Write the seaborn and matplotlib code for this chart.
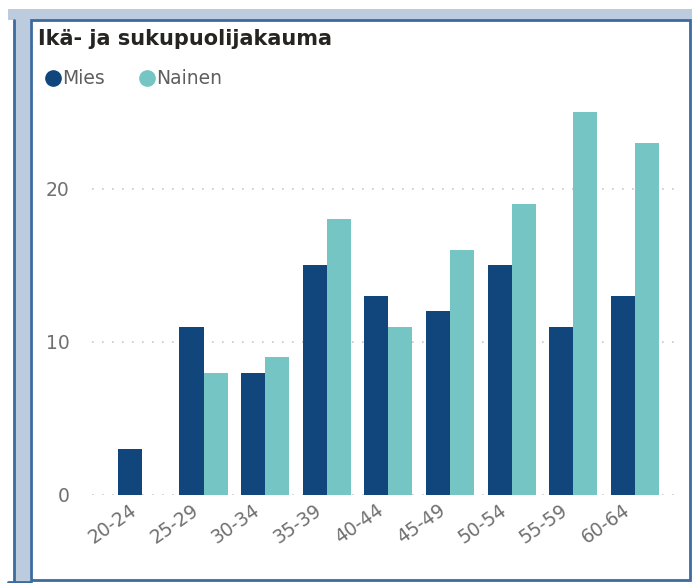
import seaborn as sns
import matplotlib.pyplot as plt
import matplotlib.transforms as mtransforms
import pandas as pd
from matplotlib.patches import Rectangle
from matplotlib.lines import Line2D

age_groups = ["20-24", "25-29", "30-34", "35-39", "40-44", "45-49", "50-54", "55-59", "60-64"]
mies = [3, 11, 8, 15, 13, 12, 15, 11, 13]
nainen = [0, 8, 9, 18, 11, 16, 19, 25, 23]
genders = ["Mies", "Nainen"]
colors = ["#11467C", "#74C5C3"]

df = pd.DataFrame({
    "ika": age_groups * 2,
    "sukupuoli": ["Mies"] * len(age_groups) + ["Nainen"] * len(age_groups),
    "lkm": mies + nainen,
})

sns.set_style("white")
plt.rcParams["font.family"] = ["DejaVu Sans"]

fig = plt.figure(figsize=(6.92, 5.83), dpi=100)

# frame like the report page
W, H = 692, 583
band = "#BCCBDD"
edge = "#3B6B9F"
fig.patches.append(Rectangle((8 / W, 1 - 20 / H), 684 / W, 11 / H, transform=fig.transFigure,
                             facecolor=band, edgecolor="none", zorder=0))
fig.patches.append(Rectangle((14 / W, 0), 16 / W, 1 - 20 / H, transform=fig.transFigure,
                             facecolor=band, edgecolor="none", zorder=0))
fig.add_artist(Line2D([14 / W, 14 / W], [2 / H, 1 - 20 / H], transform=fig.transFigure, color=edge, lw=2))
fig.add_artist(Line2D([8 / W, 31 / W], [1.5 / H, 1.5 / H], transform=fig.transFigure, color=edge, lw=2))
fig.patches.append(Rectangle((31 / W, 3 / H), 659 / W, 1 - 23 / H, transform=fig.transFigure,
                             facecolor="white", edgecolor=edge, lw=2, zorder=1))

ax = fig.add_axes([92 / W, 88 / H, 586 / W, 398 / H])
ax.set_zorder(2)
ax.patch.set_alpha(0)

sns.barplot(data=df, x="ika", y="lkm", hue="sukupuoli", hue_order=genders,
            palette=colors, saturation=1, width=0.78, linewidth=0, legend=False, ax=ax, zorder=3)

ax.set_xlim(-0.81, 8.70)
ax.set_ylim(0, 26)
ax.set_yticks([0, 10, 20])
for y in [0, 10, 20]:
    ax.axhline(y, color="#C8C8C8", lw=1.2, linestyle=(0, (1, 5)), zorder=1)
sns.despine(ax=ax, left=True, bottom=True)
ax.set_xlabel("")
ax.set_ylabel("")
ax.tick_params(axis="both", length=0, colors="#707070", labelsize=13.5)
ax.tick_params(axis="y", pad=16)
ax.tick_params(axis="x", pad=4)
shift = mtransforms.ScaledTranslation(-9 / 72, 0, fig.dpi_scale_trans)
for lbl in ax.get_xticklabels():
    lbl.set_rotation(35)
    lbl.set_ha("right")
    lbl.set_rotation_mode("anchor")
    lbl.set_transform(lbl.get_transform() + shift)

fig.text(38 / W, 1 - 39 / H, "Ikä- ja sukupuolijakauma", fontsize=15, fontweight="bold",
         color="#252423", va="center", ha="left")

# legend row
legend_x = [53, 147]
for name, c, lx in zip(genders, colors, legend_x):
    fig.add_artist(Line2D([lx / W], [1 - 78 / H], marker="o", markersize=11, color=c,
                          linestyle="", transform=fig.transFigure))
    fig.text((lx + 9) / W, 1 - 78 / H, name, fontsize=13.5, color="#605E5C",
             va="center", ha="left")

fig.savefig("out.png", dpi=100)
